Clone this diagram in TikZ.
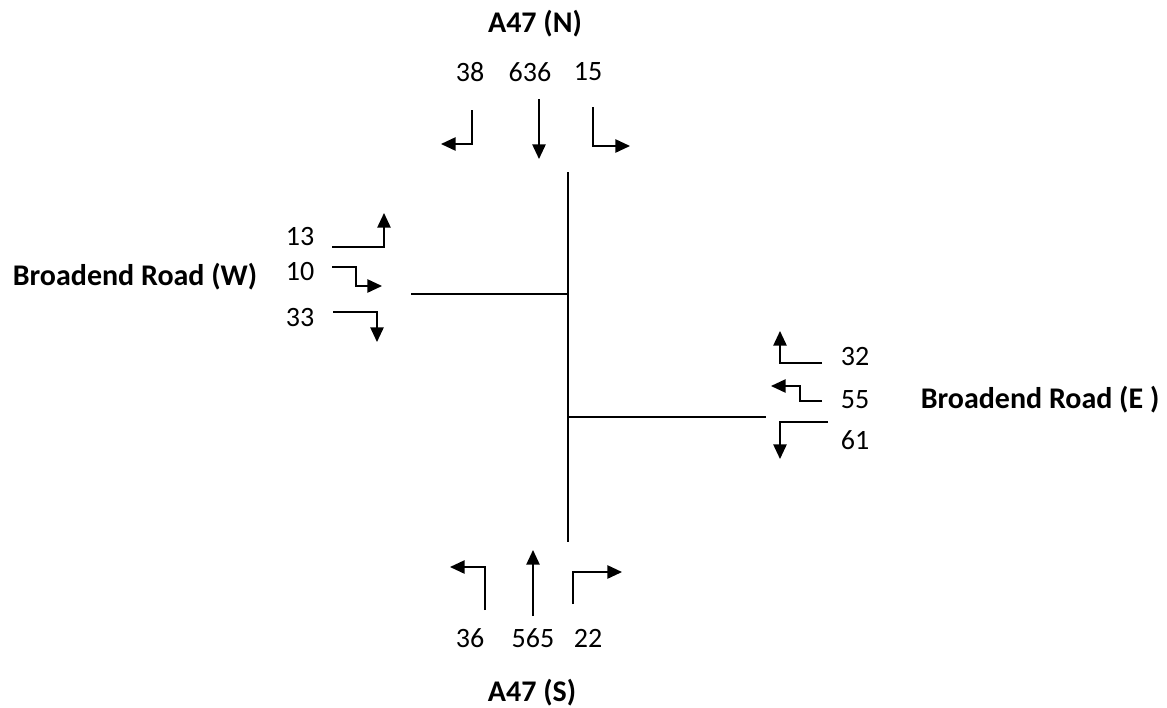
\documentclass[tikz,border=0pt]{standalone}
\usepackage{fontspec}
\setmainfont{Carlito}
\usetikzlibrary{arrows.meta}
\begin{document}
\begin{tikzpicture}[x=0.75pt,y=-0.75pt,
  road/.style={line width=1.2pt},
  turn/.style={line width=1.2pt,-{Triangle[length=11pt,width=10pt]}},
  num/.style={font=\fontsize{21}{24}\selectfont,inner sep=0pt},
  lbl/.style={font=\bfseries\fontsize{22.5}{26}\selectfont,inner sep=0pt}]
\useasboundingbox (0,0) rectangle (1167,707);
% roads
\coordinate (nTop) at (568,172);
\coordinate (sBot) at (568,542);
\coordinate (wEnd) at (411,294);
\coordinate (wJ) at (568,294);
\coordinate (eEnd) at (766,417);
\coordinate (eJ) at (568,417);
\draw[road] (nTop) -- (sBot);
\draw[road] (wEnd) -- (wJ);
\draw[road] (eJ) -- (eEnd);
% labels
\node[lbl] (lN) at (535,24) {A47 (N)};
\node[lbl] (lS) at (532,693) {A47 (S)};
\node[lbl] (lW) at (135,277) {Broadend Road (W)};
\node[lbl] (lE) at (1040,400) {Broadend Road (E )};
% north numbers
\node[num] (n38) at (470,72) {38};
\node[num] (n636) at (530,72) {636};
\node[num] (n15) at (588,72) {15};
\draw[turn] (472,110) -- (472,144) -- (441,144);
\draw[turn] (539,99) -- (539,159);
\draw[turn] (593,107) -- (593,146) -- (630,146);
% west
\node[num] (w13) at (300,237) {13};
\node[num] (w10) at (300,272) {10};
\node[num] (w33) at (300,318) {33};
\draw[turn] (332,247) -- (384,247) -- (384,213);
\draw[turn] (332,267) -- (356,267) -- (356,286) -- (382,286);
\draw[turn] (333,312) -- (377,312) -- (377,342);
% east
\node[num] (e32) at (855,357) {32};
\node[num] (e55) at (855,400) {55};
\node[num] (e61) at (855,440) {61};
\draw[turn] (822,363) -- (780,363) -- (780,331);
\draw[turn] (822,401) -- (800,401) -- (800,386) -- (771,386);
\draw[turn] (828,422) -- (780,422) -- (780,459);
% south
\node[num] (s36) at (470,638) {36};
\node[num] (s565) at (533,638) {565};
\node[num] (s22) at (588,638) {22};
\draw[turn] (485,610) -- (485,567) -- (450,567);
\draw[turn] (533,616) -- (533,550);
\draw[turn] (573,604) -- (573,572) -- (622,572);
\end{tikzpicture}
\end{document}
